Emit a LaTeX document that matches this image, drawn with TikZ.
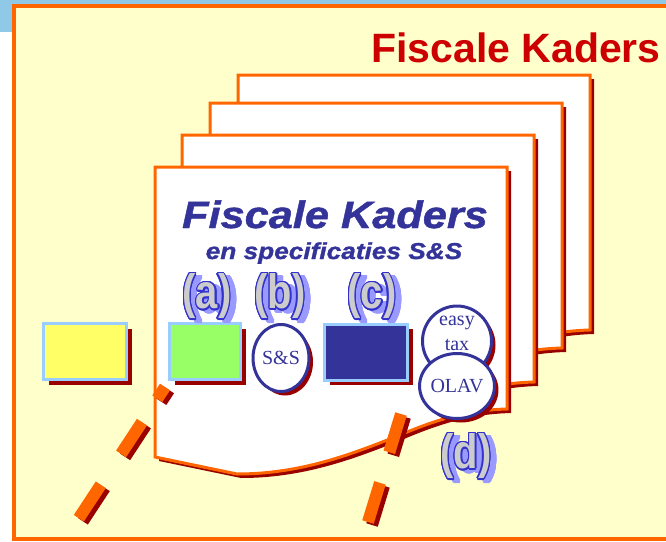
\documentclass[tikz,border=0pt]{standalone}
\usepackage{fontspec}
\setmainfont{Liberation Serif}
\setsansfont{Liberation Sans}
\newfontfamily\headfont[FakeStretch=1.14, BoldItalicFeatures={FakeBold=1.2}]{Liberation Sans}
\usepackage{contour}
\usetikzlibrary{shapes.geometric,shadows}

\definecolor{bandblue}{HTML}{90C8E8}
\definecolor{frameyellow}{HTML}{FFFFCC}
\definecolor{pageorange}{HTML}{FF6600}
\definecolor{shadowred}{HTML}{990000}
\definecolor{titlered}{HTML}{CC0000}
\definecolor{inkblue}{HTML}{333399}
\definecolor{rimblue}{HTML}{99CCFF}
\definecolor{tagblue}{HTML}{3333CC}
\definecolor{taggray}{HTML}{CCCCCC}
\definecolor{taglilac}{HTML}{9999FF}
\definecolor{boxyellow}{HTML}{FFFF66}
\definecolor{boxgreen}{HTML}{99FF66}

\contourlength{1.3pt}
% outline of one sheet: left, top, bottom right
\newcommand{\pageoutline}[3]{({#1+352},#2) -- ({#1+352},#3)
  .. controls ({#1+315},{#3+1}) and ({#1+285},{#3+9}) .. ({#1+245},{#3+26})
  .. controls ({#1+195},{#3+46}) and ({#1+145},{#3+65}) .. ({#1+82},{#3+65})
  -- (#1,{#3+48}) -- (#1,#2) -- cycle}
\newcommand{\tagtext}[1]{\scalebox{0.95}[1.15]{\contour{tagblue}{\textcolor{taggray}{#1}}}}
\newcommand{\tagshade}[1]{\scalebox{0.95}[1.15]{\contour{taglilac}{\textcolor{taglilac}{#1}}}}

\begin{document}
\begin{tikzpicture}[x=1pt,y=-1pt,
    box/.style={draw=rimblue, line width=3pt, minimum height=56pt,
      general shadow={fill=shadowred, shadow xshift=5pt, shadow yshift=-5pt}},
    disc/.style={ellipse, draw=inkblue, line width=3pt, fill=white, inner sep=0pt,
      text=inkblue, font=\fontsize{20}{25}\selectfont, align=center,
      general shadow={fill=shadowred, shadow xshift=4pt, shadow yshift=-4pt}},
    tag/.style={font=\sffamily\bfseries\fontsize{42}{42}\selectfont, inner sep=0pt},
    dashbar/.style={line width=12pt, draw=pageorange}]
  \useasboundingbox (0,0) rectangle (666,541);
  \clip (0,0) rectangle (666,541);

  % background and frame
  \fill[bandblue] (0,0) rectangle (666,32);
  \filldraw[fill=frameyellow, draw=pageorange, line width=3.5pt] (14,6) rectangle (700,539);
  \node[anchor=base east, inner sep=0pt, text=titlered,
    font=\sffamily\bfseries\fontsize{41}{41}\selectfont] (title) at (661,62) {Fiscale Kaders};

  % stacked sheets
  \foreach \l/\t/\b in {238/75/330, 210/103/348, 182/135/382, 155/167/409}{
    \fill[shadowred, shift={(4,4)}] \pageoutline{\l}{\t}{\b};
    \filldraw[fill=white, draw=pageorange, line width=3pt] \pageoutline{\l}{\t}{\b};
  }

  \node[anchor=base, inner sep=0pt, text=inkblue,
    font=\headfont\bfseries\itshape\fontsize{38}{38}\selectfont] (head) at (335,228) {Fiscale Kaders};
  \node[anchor=base, inner sep=0pt, text=inkblue,
    font=\headfont\bfseries\itshape\fontsize{23}{23}\selectfont] (subhead) at (334,259) {en specificaties S\&S};

  % boxes and discs
  \node[box, fill=boxyellow, minimum width=83pt] (yellowbox) at (85,351.5) {};
  \node[box, fill=boxgreen, minimum width=71pt] (greenbox) at (205,351.5) {};
  \node[box, fill=inkblue, minimum width=83pt] (bluebox) at (366,352) {};
  \node[disc, minimum width=56pt, minimum height=67pt] (ss) at (281,358) {S\&S};
  \node[disc, minimum width=69pt, minimum height=70pt] (easytax) at (457,341) {};
  \node[text=inkblue, align=center, font=\fontsize{20}{25}\selectfont] (easytaxtext) at (457,333) {easy\\tax};
  \node[disc, minimum width=69pt, minimum height=65pt] (olav) at (457,386) {OLAV};

  % labels
  \foreach \n/\x/\y/\s in {a/207/297/a, b/280/297/b, c/372/297/c, d/466/457/d}{
    \node[tag] (tagshade\n) at (\x+6,\y+3) {\tagshade{(\s)}};
    \node[tag] (tag\n) at (\x,\y) {\tagtext{(\s)}};
  }

  % dashed guide lines
  \coordinate (leftstart) at (165,387);
  \coordinate (leftend) at (77,521);
  \coordinate (rightstart) at (401,414);
  \coordinate (rightend) at (368,522);
  \draw[dashbar, draw=shadowred, dash pattern=on 14pt off 28pt on 38pt off 37pt on 40pt off 90pt]
    ([shift={(4,3)}]leftstart) -- ([shift={(4,3)}]leftend);
  \draw[dashbar, dash pattern=on 14pt off 28pt on 38pt off 37pt on 40pt off 90pt]
    (leftstart) -- (leftend);
  \draw[dashbar, draw=shadowred, dash pattern=on 40pt off 32pt on 42pt off 90pt]
    ([shift={(4,3)}]rightstart) -- ([shift={(4,3)}]rightend);
  \draw[dashbar, dash pattern=on 40pt off 32pt on 42pt off 90pt]
    (rightstart) -- (rightend);
\end{tikzpicture}
\end{document}
